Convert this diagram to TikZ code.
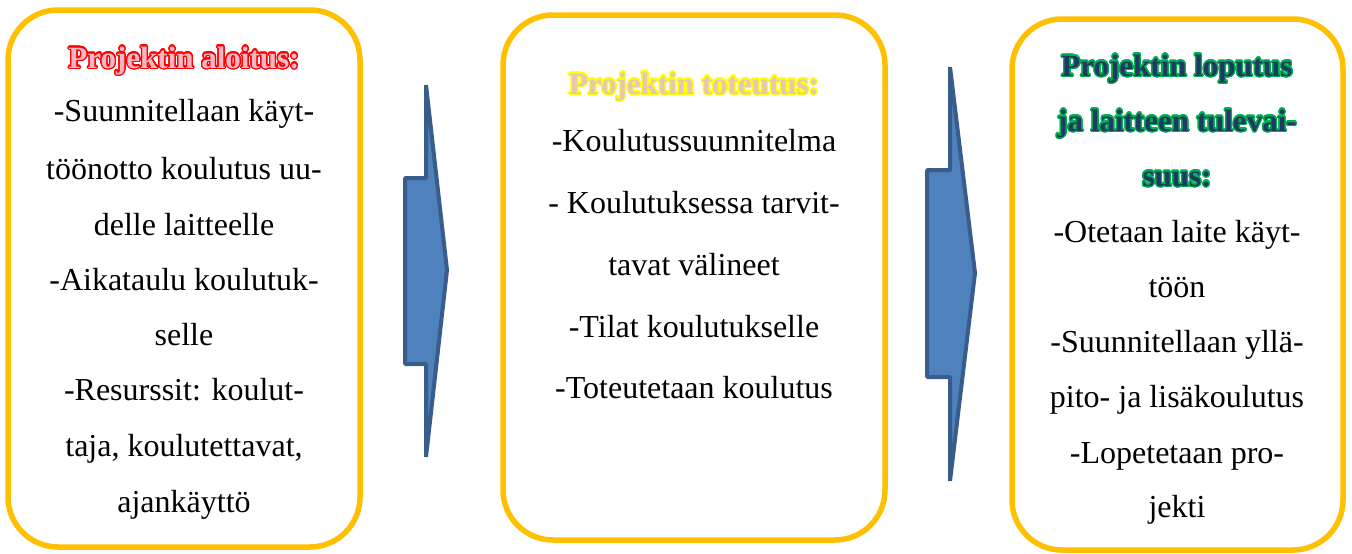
\documentclass[tikz,border=0pt]{standalone}
\usepackage{fontspec}
\setmainfont{Liberation Serif}
\newfontfamily\timesfam{Liberation Serif}
\usepackage{contour}
\contournumber{24}
\definecolor{panelgold}{HTML}{FFC000}
\definecolor{chevfill}{HTML}{4F81BD}
\definecolor{chevline}{HTML}{385D8A}
\definecolor{headred}{HTML}{FF0000}
\definecolor{headredfill}{HTML}{F4B8C4}
\definecolor{headyellow}{HTML}{FFFF00}
\definecolor{headyellowfill}{HTML}{E6C6B6}
\definecolor{headgreen}{HTML}{00B050}
\definecolor{headgreenfill}{HTML}{1F3864}
\begin{document}
\begin{tikzpicture}[x=1pt,y=-1pt,
  panel/.style={draw=panelgold, line width=5.5pt, rounded corners=50pt, fill=white},
  body/.style={font=\timesfam\fontsize{32}{38}\selectfont, anchor=base, inner sep=0pt},
  head/.style={font=\timesfam\fontsize{31}{38}\selectfont\bfseries, anchor=base, inner sep=0pt},
  chevron/.style={fill=chevfill, draw=chevline, line width=4pt, line join=bevel}]
\useasboundingbox (0,0) rectangle (1352,554);
\contourlength{1.3pt}

% three panels
\draw[panel] (8,10) rectangle (360,547);
\draw[panel] (503,15) rectangle (885,540);
\draw[panel] (1012,19) rectangle (1343,550);

% chevron arrows between the panels
\draw[chevron] (426,85) -- (447,270) -- (426,457) -- (426,364) -- (405,364)
  -- (405,178) -- (426,178) -- cycle;
\draw[chevron] (950,67) -- (975,273) -- (950,481) -- (950,377) -- (927,377)
  -- (927,170) -- (950,170) -- cycle;

% first panel
\node[head] (h1) at (184,68) {\contour{headred}{\color{headredfill}Projektin aloitus:}};
\node[body] (a1) at (184,121) {-Suunnitellaan käyt-};
\node[body] (a2) at (184,179) {töönotto koulutus uu-};
\node[body] (a3) at (184,235) {delle laitteelle};
\node[body] (a4) at (184,290) {-Aikataulu koulutuk-};
\node[body] (a5) at (184,345) {selle};
\node[body] (a6) at (184,400) {-Resurssit: koulut-};
\node[body] (a7) at (184,456) {taja, koulutettavat,};
\node[body] (a8) at (184,512) {ajankäyttö};

% second panel
\node[head] (h2) at (694,94) {\contour{headyellow}{\color{headyellowfill}Projektin toteutus:}};
\node[body] (b1) at (694,151) {-Koulutussuunnitelma};
\node[body] (b2) at (694,213) {- Koulutuksessa tarvit-};
\node[body] (b3) at (694,275) {tavat välineet};
\node[body] (b4) at (694,337) {-Tilat koulutukselle};
\node[body] (b5) at (694,398) {-Toteutetaan koulutus};

% third panel
\node[head] (h3a) at (1177,76) {\contour{headgreen}{\color{headgreenfill}Projektin loputus}};
\node[head] (h3b) at (1177,131) {\contour{headgreen}{\color{headgreenfill}ja laitteen tulevai-}};
\node[head] (h3c) at (1177,186) {\contour{headgreen}{\color{headgreenfill}suus:}};
\node[body] (c1) at (1177,242) {-Otetaan laite käyt-};
\node[body] (c2) at (1177,297) {töön};
\node[body] (c3) at (1177,352) {-Suunnitellaan yllä-};
\node[body] (c4) at (1177,407) {pito- ja lisäkoulutus};
\node[body] (c5) at (1177,463) {-Lopetetaan pro-};
\node[body] (c6) at (1177,517) {jekti};
\end{tikzpicture}
\end{document}
